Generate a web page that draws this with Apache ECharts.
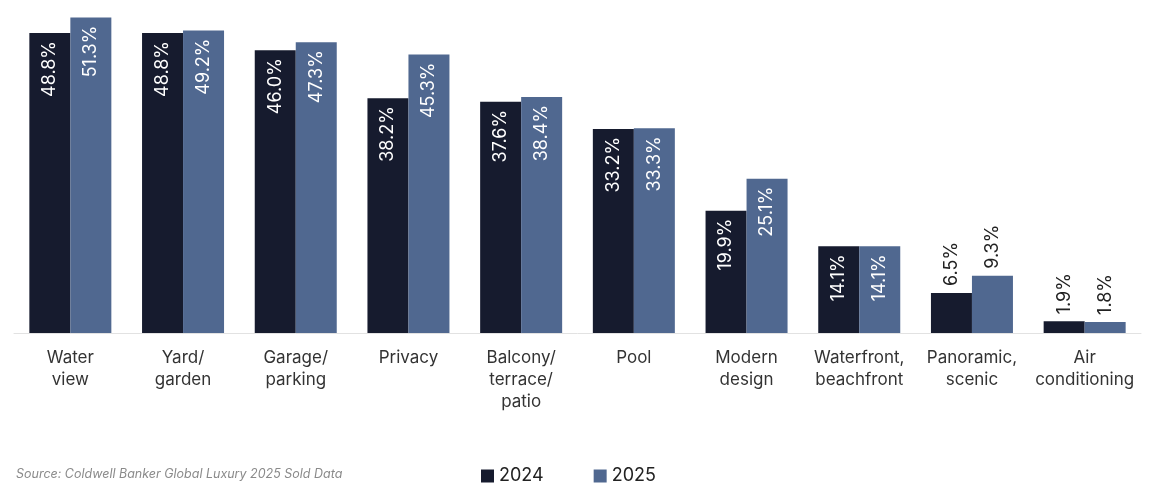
<!DOCTYPE html>
<html><head><meta charset="utf-8">
<script src="https://cdn.jsdelivr.net/npm/echarts@6/dist/echarts.min.js"></script>
<style>html,body{margin:0;padding:0;background:#fff}#c{width:1163px;height:485px}</style>
</head><body><div id="c"></div>
<script>
const categories = ['Water\nview','Yard/\ngarden','Garage/\nparking','Privacy','Balcony/\nterrace/\npatio','Pool','Modern\ndesign','Waterfront,\nbeachfront','Panoramic,\nscenic','Air\nconditioning'];
const values2024 = [48.8,48.8,46.0,38.2,37.6,33.2,19.9,14.1,6.5,1.9];
const values2025 = [51.3,49.2,47.3,45.3,38.4,33.3,25.1,14.1,9.3,1.8];
const seriesNames = ['2024','2025'];
const sourceText = 'Source: Coldwell Banker Global Luxury 2025 Sold Data';

const FONT = 'Inter, "Liberation Sans", sans-serif';
function mkData(vals){
  return vals.map(v => {
    const inside = v >= 10;
    return {
      value: v,
      label: inside ? {
        position: 'insideTop', rotate: 90, align: 'right', verticalAlign: 'middle',
        distance: 8, color: '#ffffff'
      } : {
        position: 'top', rotate: 90, align: 'left', verticalAlign: 'middle',
        distance: 7, color: '#222222'
      }
    };
  });
}
const labelBase = {show: true, fontFamily: FONT, fontSize: 18, formatter: p => p.value.toFixed(1) + '%'};
const chart = echarts.init(document.getElementById('c'));
chart.setOption({
  animation: false,
  grid: {left: 14, right: 22, top: 1, bottom: 152},
  xAxis: {
    type: 'category', data: categories,
    axisLine: {show: true, lineStyle: {color: '#e2e2e2', width: 1}},
    axisTick: {show: false},
    axisLabel: {color: '#333', fontFamily: FONT, fontSize: 17, lineHeight: 22, margin: 14, interval: 0}
  },
  yAxis: {type: 'value', min: 0, max: 54, show: false, splitLine: {show: false}},
  legend: {
    left: 476, top: 462, itemWidth: 13, itemHeight: 13, itemGap: 50, icon: 'rect',
    textStyle: {fontFamily: FONT, fontSize: 18, color: '#222'},
    data: seriesNames
  },
  graphic: [{type: 'text', left: 16, top: 468, style: {text: sourceText, fontFamily: FONT, fontStyle: 'italic', fontSize: 12.5, fill: '#8a8a8a'}}],
  series: [
    {name: seriesNames[0], type: 'bar', barWidth: 41, barGap: '0%', itemStyle: {color: '#161b2e'}, label: labelBase, data: mkData(values2024)},
    {name: seriesNames[1], type: 'bar', barWidth: 41, barGap: '0%', itemStyle: {color: '#506890'}, label: labelBase, data: mkData(values2025)}
  ]
});
</script></body></html>
